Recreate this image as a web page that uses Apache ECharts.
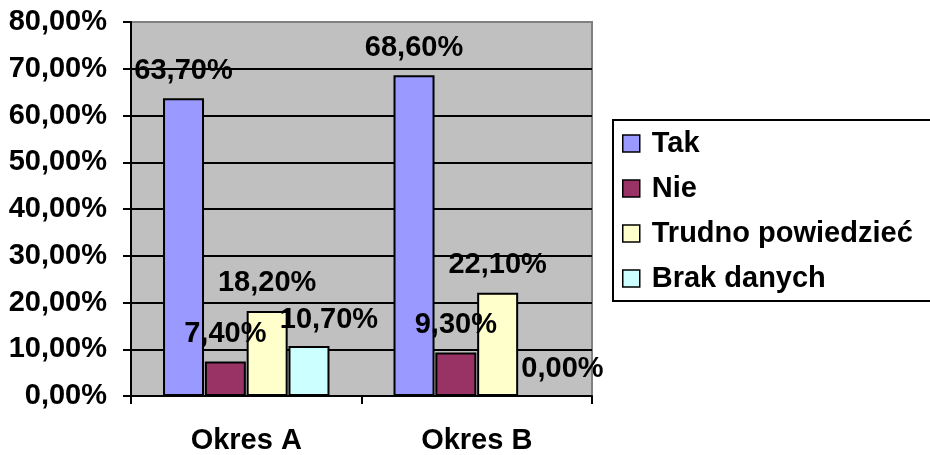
<!DOCTYPE html>
<html>
<head>
<meta charset="utf-8">
<script src="https://cdn.jsdelivr.net/npm/echarts@6/dist/echarts.min.js"></script>
<style>
  html, body { margin: 0; padding: 0; background: #fff; }
  #chart { width: 930px; height: 455px; }
</style>
</head>
<body>
<div id="chart"></div>
<script>
  // categories and series values (percent)
  const okresy = ['Okres A', 'Okres B'];
  const tak = [63.7, 68.6];
  const nie = [7.4, 9.3];
  const trudno = [18.2, 22.1];
  const brak = [10.7, 0.0];

  const FONT = '"Liberation Sans", Arial, sans-serif';
  const FS = 29;
  const pct = (v) => v.toFixed(2).replace('.', ',') + '%';

  // Excel nudges the "Brak danych" labels to the right, keep the shifts apart from values
  const labelShift = {
    'Brak danych': [[20, 2], [23, 1]]
  };

  function makeSeries(name, values, color) {
    const shifts = labelShift[name] || [];
    return {
      name: name,
      type: 'bar',
      barWidth: 41,
      barGap: '2%',
      itemStyle: { color: color, borderColor: '#000', borderWidth: 2 },
      label: {
        show: true,
        position: 'top',
        distance: 13,
        color: '#000',
        fontFamily: FONT,
        fontWeight: 'bold',
        fontSize: FS,
        formatter: (p) => pct(p.value)
      },
      data: values.map((v, i) => shifts[i] ? { value: v, label: { offset: shifts[i] } } : v)
    };
  }

  const chart = echarts.init(document.getElementById('chart'));
  const option = {
    animation: false,
    grid: {
      left: 131, right: 338, top: 22, bottom: 57,
      show: true,
      backgroundColor: '#c0c0c0',
      borderColor: '#808080',
      borderWidth: 2
    },
    legend: {
      orient: 'vertical',
      left: 613,
      top: 120,
      icon: 'rect',
      itemWidth: 17,
      itemHeight: 17,
      itemGap: 16,
      padding: [9, 20, 8, 9],
      backgroundColor: '#fff',
      borderColor: '#000',
      borderWidth: 2,
      itemStyle: { borderColor: '#000', borderWidth: 1.5 },
      textStyle: {
        color: '#000',
        fontFamily: FONT,
        fontWeight: 'bold',
        fontSize: FS,
        padding: [0, 0, 0, 7]
      },
      data: ['Tak', 'Nie', 'Trudno powiedzieć', 'Brak danych']
    },
    xAxis: {
      type: 'category',
      data: okresy,
      axisLine: { lineStyle: { color: '#000', width: 2 } },
      axisTick: { show: true, length: 8, lineStyle: { color: '#000', width: 2 } },
      axisLabel: {
        margin: 30,
        color: '#000',
        fontFamily: FONT,
        fontWeight: 'bold',
        fontSize: FS
      }
    },
    yAxis: {
      type: 'value',
      min: 0,
      max: 80,
      interval: 10,
      axisLine: { show: true, lineStyle: { color: '#000', width: 2 } },
      axisTick: { show: true, length: 8, lineStyle: { color: '#000', width: 2 } },
      splitLine: {
        show: true,
        lineStyle: {
          color: ['#000', '#000', '#000', '#000', '#000', '#000', '#000', '#000', '#808080'],
          width: 2
        }
      },
      axisLabel: {
        margin: 24,
        color: '#000',
        fontFamily: FONT,
        fontWeight: 'bold',
        fontSize: FS,
        formatter: (v) => pct(v)
      }
    },
    series: [
      makeSeries('Tak', tak, '#9999ff'),
      makeSeries('Nie', nie, '#993366'),
      makeSeries('Trudno powiedzieć', trudno, '#ffffcc'),
      makeSeries('Brak danych', brak, '#ccffff')
    ]
  };
  chart.setOption(option);
</script>
</body>
</html>
